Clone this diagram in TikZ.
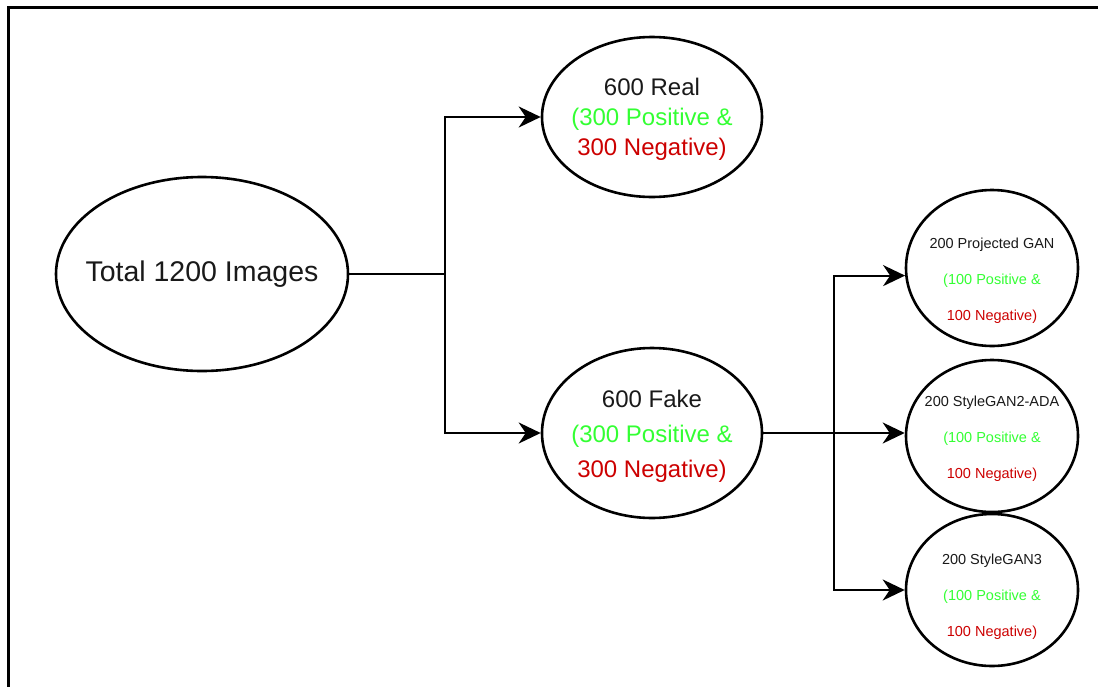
\documentclass[tikz,border=0pt]{standalone}
\usepackage{fontspec}
\setmainfont{Liberation Sans}
\usetikzlibrary{shapes.geometric,arrows.meta}
\definecolor{posgreen}{RGB}{51,255,51}
\definecolor{negred}{RGB}{204,0,0}
\definecolor{txt}{RGB}{25,25,25}
\tikzset{
  blob/.style={draw=black, line width=2.6pt, ellipse, inner sep=0pt},
  link/.style={draw=black, line width=2.2pt},
  arr/.style={link, -{Stealth[length=22pt,width=21pt,inset=7pt]}},
  big/.style={font=\fontsize{28.5}{34}\selectfont, text=txt},
  mid/.style={font=\fontsize{24}{30}\selectfont, align=center, text=txt, inner sep=0pt},
  small/.style={font=\fontsize{14.5}{36}\selectfont, align=center, text=txt, inner sep=0pt},
}
\newcommand{\pos}[1]{\textcolor{posgreen}{#1}}
\newcommand{\nega}[1]{\textcolor{negred}{#1}}
\begin{document}
\begin{tikzpicture}[x=1pt,y=-1pt]
  \useasboundingbox (0,0) rectangle (1098,686);
  % frame
  \coordinate (fb) at (8,690);
  \coordinate (fc) at (8,7);
  \coordinate (fr) at (1102,7);
  \draw[line width=3pt] (fb) -- (fc) -- (fr);

  % ellipses
  \node[blob, minimum width=292pt, minimum height=194pt] (total) at (202,274) {};
  \node[blob, minimum width=220pt, minimum height=160pt] (real) at (652,117) {};
  \node[blob, minimum width=220pt, minimum height=170pt] (fake) at (652,433) {};
  \node[blob, minimum width=172pt, minimum height=156pt] (pgan) at (992,268) {};
  \node[blob, minimum width=172pt, minimum height=152pt] (sg2) at (992,436) {};
  \node[blob, minimum width=172pt, minimum height=152pt] (sg3) at (992,590) {};

  % texts
  \node[big] (totalT) at (total.center) {Total 1200 Images};
  \node[mid] (realT) at (652,119) {600 Real\\\pos{(300 Positive \&}\\\nega{300 Negative)}};
  \node[mid, font=\fontsize{24}{35}\selectfont] (fakeT) at (652,436) {600 Fake\\\pos{(300 Positive \&}\\\nega{300 Negative)}};
  \node[small] (pganT) at (992,281) {200 Projected GAN\\\pos{(100 Positive \&}\\\nega{100 Negative)}};
  \node[small] (sg2T) at (992,439) {200 StyleGAN2-ADA\\\pos{(100 Positive \&}\\\nega{100 Negative)}};
  \node[small] (sg3T) at (992,597) {200 StyleGAN3\\\pos{(100 Positive \&}\\\nega{100 Negative)}};

  % connectors
  \coordinate (split1) at (445,274);
  \coordinate (split2) at (834,433);
  \draw[link] (total.east) -- (split1);
  \draw[arr] (split1) |- (real.west);
  \draw[arr] (split1) |- (fake.west);
  \draw[link] (fake.east) -- (split2);
  \draw[arr] (split2) |- (pgan.185);
  \draw[arr] (split2) -- (split2 -| sg2.west);
  \draw[arr] (split2) |- (sg3.west);
\end{tikzpicture}
\end{document}
